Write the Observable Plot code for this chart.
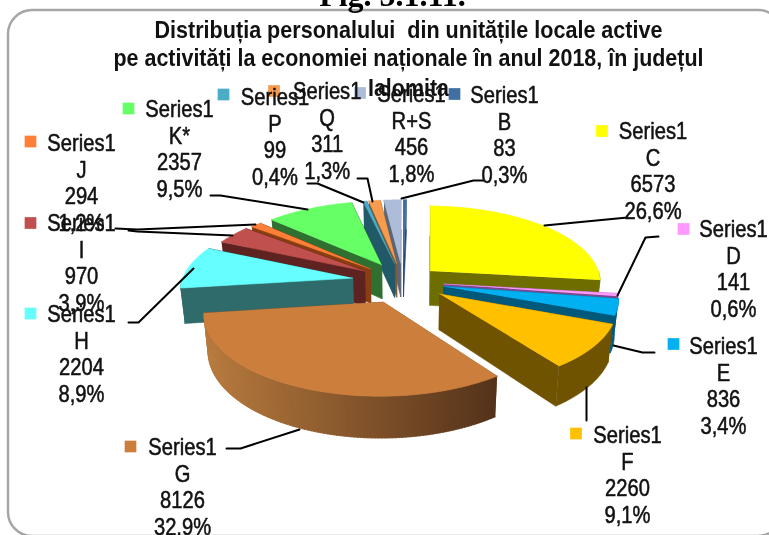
<!DOCTYPE html>
<html>
<head>
<meta charset="utf-8">
<script src="https://cdn.jsdelivr.net/npm/d3@7"></script>
<script src="https://cdn.jsdelivr.net/npm/@observablehq/plot@0.6"></script>
<style>
html,body{margin:0;padding:0;background:#fff;overflow:hidden}
svg{filter:blur(0.4px)}
</style>
</head>
<body>
<div id="chart"></div>
<script>
// ---- data (clockwise from 12 o'clock) ----
const seriesName = "Series1";
const categories = ["B","C","D","E","F","G","H","I","J","K*","P","Q","R+S"];
const values     = [83,6573,141,836,2260,8126,2204,970,294,2357,99,311,456];
const percents   = ["0,3%","26,6%","0,6%","3,4%","9,1%","32,9%","8,9%","3,9%","1,2%","9,5%","0,4%","1,3%","1,8%"];
const titleLines = ["Distribuția personalului  din unitățile locale active",
                    "pe activități la economiei naționale în anul 2018, în județul",
                    "Ialomita"];
const figCaption = "Fig. 5.1.11.";

// ---- styles ----
const topColors  = ["#3f6fa3","#ffff00","#ff99ff","#00b0f0","#ffc000","#cc7f3c","#66ffff","#c0504d","#ff7f37","#66ff66","#4bacc6","#f79c4f","#adbcd9"];
const sideColors = ["#26496e","#6e6e00","#7a4a90","#00587a","#6f5300","#8a5a2f","#2f6b6b","#5e2320","#8a3d10","#2f7030","#215968","#7f5a35","#5d6678"];
const rimLeft = "#b87b3e", rimRight = "#54321a";
const explode    = [.25,.215,.24,.245,.265,.285,.30,.27,.26,.26,.25,.25,.25];
const paintOrder = [12,11,10,9,8,7,0,1,2,3,4,6,5];
const titleWidths = [508, 590, 81];
const labelSqueeze = 0.84;

// ---- layout: 3D view and label placement ----
const view = {cx:402.6, cy:281, f:171, g:76, k:.13, depth:35, shrink:.98};
const labelX = [504,652.5,733,723,627,182,81,81,81,179,274.5,326.7,411];
const labelY = [95,131,229,346,435,447,314,223,143,109,97,91,94];
const swatchX = [454,601.5,683,673,575.5,130,30,30,30,128,223,273.5,359.5];
const swatchY = [93.5,130.5,228.5,343.5,433,446,313,222.5,141,108,94,90.5,92.5];
const lineStep = 26.5;
const leaders = [
  [[401,198],[473,180],[483,180]],
  [[544,225],[627,217]],
  [[617,295],[645,237],[658,236]],
  [[613,345],[642,352],[654,352]],
  [[586,387],[586,420]],
  [[299,429],[240,448],[226,448]],
  [[193,268],[138,322],[128,322]],
  [[232,235],[137,231],[128,230]],
  [[255,224],[137,229],[115,228]],
  [[307,209],[220,195],[210,195]],
  [[363,202],[317,183],[307,183]],
  [[372,201],[367,178],[357,178]]
];

// ---- geometry derived from the values ----
const project = (u, v, down) => {
  const w = 1 + view.k * v;
  let x = view.cx + view.f * u / w;
  let y = view.cy - view.g * v / w;
  if (down) { y += view.depth / w; x = view.cx + (x - view.cx) * view.shrink; }
  return [x, y];
};
const total = d3.sum(values);
const deg = Math.PI / 180;
let cum = 0;
const slices = values.map((val, i) => {
  const a0 = cum / total * 2 * Math.PI;
  cum += val;
  const a1 = cum / total * 2 * Math.PI;
  const mid = (a0 + a1) / 2;
  return {i, a0, a1, ux: explode[i] * Math.sin(mid), vx: explode[i] * Math.cos(mid)};
});
const polys = [];
let polyId = 0;
const addPoly = (pts, color) => {
  const id = polyId++;
  for (const [x, y] of pts) polys.push({id, x, y, color});
};
for (const idx of paintOrder) {
  const s = slices[idx];
  const rim = (a, down) => project(s.ux + Math.sin(a), s.vx + Math.cos(a), down);
  const apex = down => project(s.ux, s.vx, down);
  // radial cut faces
  for (const a of [s.a0, s.a1]) addPoly([rim(a,false), apex(false), apex(true), rim(a,true)], sideColors[idx]);
  // outer wall, front half only
  const r0 = Math.max(s.a0, 90 * deg), r1 = Math.min(s.a1, 270 * deg);
  if (r1 > r0) {
    const n = Math.ceil((r1 - r0) / deg);
    if (categories[idx] === "G") {
      const shade = d3.interpolateRgb(rimRight, rimLeft);
      for (let j = n - 1; j >= 0; j--) {
        const a = r0 + (r1 - r0) * j / n;
        const b = r0 + (r1 - r0) * (j + 1) / n;
        const aa = Math.max(r0, a - deg * 0.6);
        const xp = (rim((a+b)/2,false)[0] - rim(r0,false)[0]) / (rim(r1,false)[0] - rim(r0,false)[0]);
        addPoly([rim(aa,false), rim(b,false), rim(b,true), rim(aa,true)], shade(xp));
      }
    } else {
      const top = d3.range(n + 1).map(j => rim(r0 + (r1 - r0) * j / n, false));
      const bot = d3.range(n + 1).map(j => rim(r1 - (r1 - r0) * j / n, true));
      addPoly([...top, ...bot], sideColors[idx]);
    }
  }
  // top face
  const n = Math.max(2, Math.ceil((s.a1 - s.a0) / deg));
  addPoly([apex(false), ...d3.range(n + 1).map(j => rim(s.a0 + (s.a1 - s.a0) * j / n, false))], topColors[idx]);
}

// ---- tables for text marks ----
const labelRows = categories.flatMap((c, i) =>
  [seriesName, c, String(values[i]), percents[i]].map((t, r) => ({t, x: labelX[i], y: labelY[i] + r * lineStep}))
);
const titleRows = titleLines.map((t, r) => ({t, r}));
const swatches = categories.map((c, i) => ({x: swatchX[i], y: swatchY[i], color: topColors[i]}));
const leaderRows = leaders.flatMap((pts, id) => pts.map(([x, y]) => ({id, x, y})));

const sans = "'Liberation Sans',Arial,sans-serif";

const chart = Plot.plot({
  width: 769, height: 535, margin: 0,
  x: {domain: [0, 769], range: [0, 769], axis: null},
  y: {domain: [0, 535], range: [0, 535], axis: null},
  color: {type: "identity"},
  style: {background: "#fff", overflow: "hidden"},
  marks: [
    Plot.rect([{}], {x1: 8, x2: 782, y1: 10, y2: 536, rx: 24, fill: "#fff", stroke: "#a6a6a6", strokeWidth: 2.5}),
    Plot.text([figCaption], {text: d => d, x: 392, y: 5, textAnchor: "middle", lineAnchor: "bottom", fontFamily: "'Liberation Serif',serif", fontWeight: "bold", fontSize: 32, fill: "#000"}),
    Plot.text(titleRows, {text: "t", x: 408, y: d => [30, 58, 88][d.r], textAnchor: "middle", fontFamily: sans, fontWeight: "bold", fontSize: 24, fill: "#111"}),
    Plot.line(polys, {x: "x", y: "y", z: "id", fill: "color", stroke: "color", strokeWidth: 0.6, curve: "linear"}),
    Plot.line(leaderRows, {x: "x", y: "y", z: "id", stroke: "#000", strokeWidth: 2, curve: "linear"}),
    Plot.dot(swatches, {x: "x", y: "y", symbol: "square", r: 6.6, fill: "color", stroke: "none"}),
    Plot.text(labelRows, {text: "t", x: "x", y: "y", textAnchor: "middle", fontFamily: sans, fontSize: 24, fill: "#111", stroke: "#111", strokeWidth: 0.55})
  ]
});
document.getElementById("chart").appendChild(chart);

// condense the text to the reference's narrow face
chart.querySelectorAll("text").forEach(el => {
  const content = el.textContent;
  if (content === figCaption) return;
  const ti = titleLines.indexOf(content);
  const target = ti >= 0 ? titleWidths[ti] : el.getComputedTextLength() * labelSqueeze;
  el.setAttribute("textLength", target);
  el.setAttribute("lengthAdjust", "spacingAndGlyphs");
});
</script>
</body>
</html>
